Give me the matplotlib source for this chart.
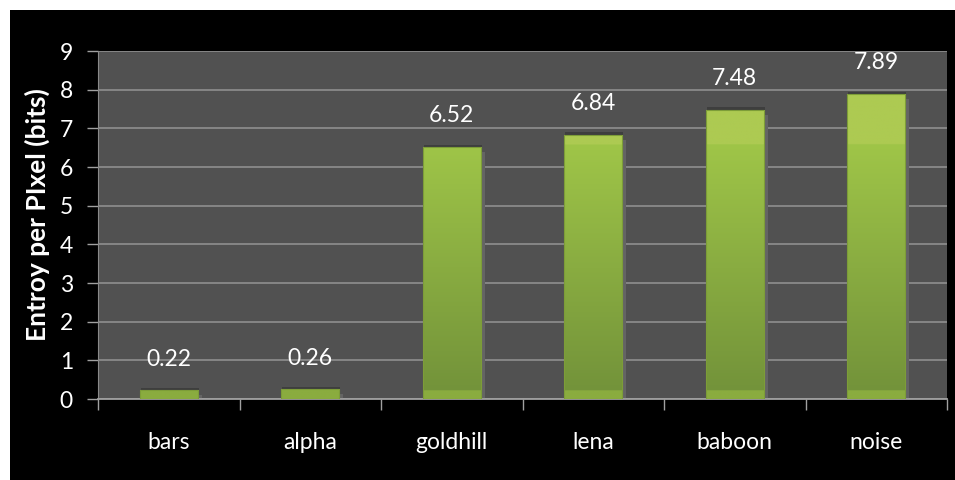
import matplotlib
matplotlib.use("Agg")
import matplotlib.pyplot as plt
import numpy as np
from matplotlib.colors import LinearSegmentedColormap
from matplotlib.patches import Rectangle

categories = ["bars", "alpha", "goldhill", "lena", "baboon", "noise"]
entropy_bits = [0.22, 0.26, 6.52, 6.84, 7.48, 7.89]
y_ticks = [0, 1, 2, 3, 4, 5, 6, 7, 8, 9]

plt.rcParams["font.family"] = ["Lato", "DejaVu Sans"]

BG_PLOT = "#515151"
GRID = "#8a8a8a"
TXT = "white"

fig = plt.figure(figsize=(9.55, 4.8), dpi=100)
fig.patch.set_facecolor("white")
fig.patches.append(Rectangle((10 / 955, 0), 945 / 955, 470 / 480,
                             transform=fig.transFigure, facecolor="black",
                             edgecolor="none", zorder=-10))

ax = fig.add_axes([98 / 955, 81 / 480, 849 / 955, 348 / 480])
ax.set_facecolor(BG_PLOT)
ax.set_xlim(0, len(categories))
ax.set_ylim(0, 9)

# gridlines
ax.set_yticks(y_ticks)
ax.yaxis.grid(True, color=GRID, linewidth=1.3, zorder=0)
ax.set_axisbelow(True)

# gradient colour as a function of the y value (absolute, like the original)
ymax = 9.0
grad = LinearSegmentedColormap.from_list("g", [
    (0.0, "#8aac3f"),
    (0.022, "#8aac3f"),
    (0.023, "#73933a"),
    (6.57 / ymax, "#9fc548"),
    (6.58 / ymax, "#adca52"),
    (1.0, "#adca52"),
])
yy = np.linspace(0, ymax, 600).reshape(-1, 1)

x_pos = np.arange(len(categories)) + 0.5
width = 0.41
dx_sh = 4 / 141.5
dy_sh = 5 / 38.67
for x, v in zip(x_pos, entropy_bits):
    # shadow
    ax.add_patch(Rectangle((x - width / 2 + dx_sh, 0), width, max(v - dy_sh, 0),
                           facecolor="#646464", edgecolor="none", zorder=2))
    ax.add_patch(Rectangle((x - width / 2 + 0.006, v), width, 0.06,
                           facecolor="#3e3e3e", edgecolor="none", zorder=2))
    rect = Rectangle((x - width / 2, 0), width, v, facecolor="none",
                     edgecolor="#7d9d38", linewidth=0.8, zorder=4)
    ax.add_patch(rect)
    im = ax.imshow(yy, extent=(x - width / 2, x + width / 2, 0, ymax),
                   origin="lower", cmap=grad, aspect="auto", zorder=3,
                   vmin=0, vmax=ymax)
    clip = Rectangle((x - width / 2, 0), width, v, transform=ax.transData)
    im.set_clip_path(clip)
    ax.text(x, v + 0.8, f"{v:.2f}", ha="center", va="center",
            color=TXT, fontsize=16.5, zorder=5)

ax.set_xlim(0, len(categories))
ax.set_ylim(0, 9)

# x axis: tick marks at category boundaries, labels at centres
ax.set_xticks(np.arange(len(categories) + 1))
ax.set_xticklabels([])
ax.set_xticks(x_pos, minor=True)
ax.set_xticklabels(categories, minor=True)
ax.tick_params(axis="x", which="major", length=8, width=1, color="#a0a0a0",
               direction="out")
ax.tick_params(axis="x", which="minor", length=0, pad=24, labelsize=16.5,
               labelcolor=TXT)
ax.tick_params(axis="y", length=8, width=1, color="#a0a0a0", pad=10,
               labelsize=16.5, labelcolor=TXT)

for side in ("top", "right"):
    ax.spines[side].set_visible(False)
ax.spines["left"].set_color("#8a8a8a")
ax.spines["bottom"].set_color("#a0a0a0")
ax.spines["bottom"].set_linewidth(1.3)

ax.set_ylabel("Entroy per PIxel (bits)", color=TXT, fontsize=19,
              fontweight="bold")
ax.yaxis.set_label_coords(-0.057, 0.53)

fig.savefig("out.png", dpi=100, facecolor=fig.get_facecolor())
